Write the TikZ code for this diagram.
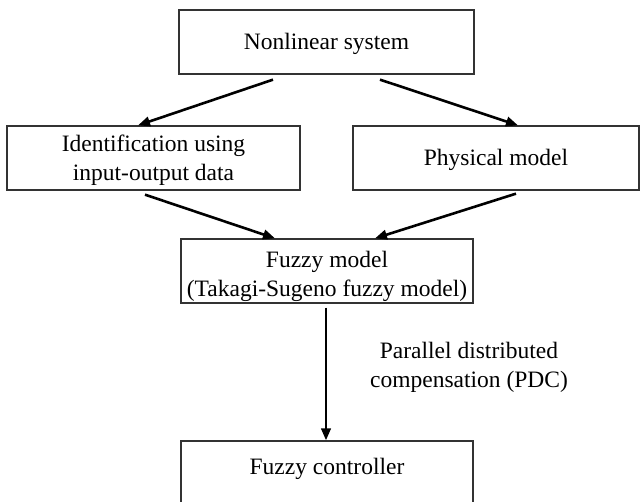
\documentclass[tikz,border=0pt]{standalone}
\usepackage{fontspec}
\setmainfont{Liberation Serif}
\usetikzlibrary{arrows.meta}
\newcommand\boxtext[2]{\raisebox{#1}[\height][\depth]{\begin{tabular}{@{}c@{}}#2\end{tabular}}}
\begin{document}
\begin{tikzpicture}[x=1pt,y=-1pt,
  box/.style={draw=black!80, line width=1.3pt, inner sep=0pt, align=center,
    font=\fontsize{23.5}{29}\selectfont},
  conn/.style={line width=2.6pt, -{Triangle[length=12pt,width=9.5pt]}},
  lbl/.style={align=center, inner sep=0pt, font=\fontsize{23.5}{29}\selectfont}]
\useasboundingbox (0,0) rectangle (640,501);
\clip (0,0) rectangle (640,501);
\fill[white] (0,0) rectangle (640,501);
\node[box, minimum width=295pt, minimum height=64pt] (sys) at (326.5,42) {\boxtext{-2pt}{Nonlinear system}};
\node[box, minimum width=293pt, minimum height=64pt] (ident) at (153.5,158) {\boxtext{-2pt}{Identification using\\input-output data}};
\node[box, minimum width=286pt, minimum height=64pt] (phys) at (496,158) {\boxtext{-2pt}{Physical model}};
\node[box, minimum width=292pt, minimum height=64pt] (fm) at (327,271) {\boxtext{-5pt}{Fuzzy model\\(Takagi-Sugeno fuzzy model)}};
\node[box, minimum width=292pt, minimum height=64pt] (fc) at (327,473) {\boxtext{4pt}{Fuzzy controller}};
\node[lbl] (pdc) at (469,367) {Parallel distributed\\compensation (PDC)};
\draw[conn] ([shift={(-53.5,5)}]sys.south) -- ([xshift=-15.5pt]ident.north);
\draw[conn] ([shift={(53.5,5)}]sys.south) -- ([xshift=22pt]phys.north);
\draw[conn] ([shift={(-8.5,4)}]ident.south) -- ([xshift=-52pt]fm.north);
\draw[conn] ([shift={(20,3)}]phys.south) -- ([xshift=48pt]fm.north);
\draw[conn] ([shift={(-1,4)}]fm.south) -- ([xshift=-1pt]fc.north);
\end{tikzpicture}
\end{document}
